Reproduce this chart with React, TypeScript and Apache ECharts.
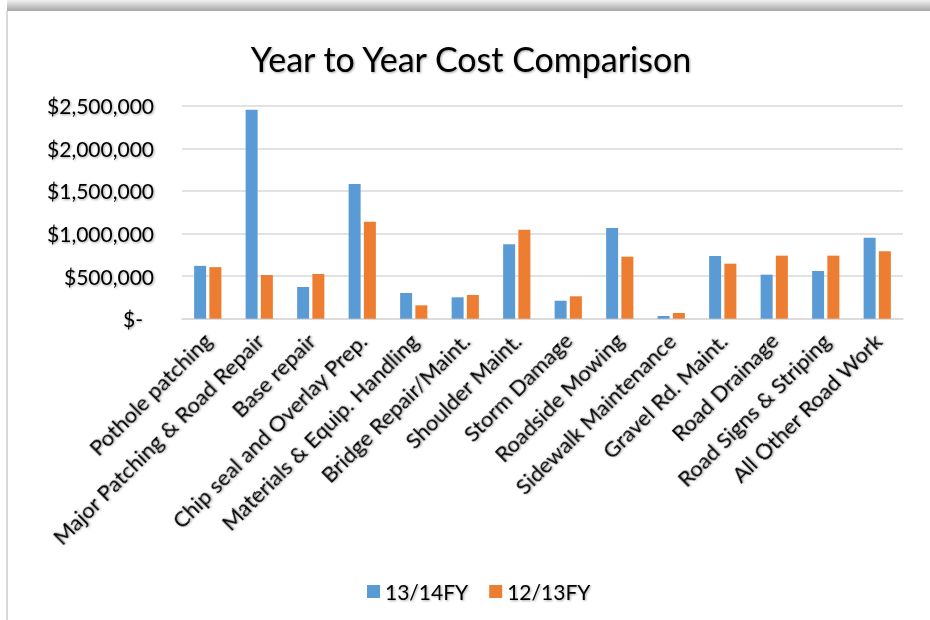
import React, { useEffect, useRef } from 'react';
import * as echarts from 'echarts';

const categories = [
  'Pothole patching',
  'Major Patching & Road Repair',
  'Base repair',
  'Chip seal and Overlay Prep.',
  'Materials & Equip. Handling',
  'Bridge Repair/Maint.',
  'Shoulder Maint.',
  'Storm Damage',
  'Roadside Mowing',
  'Sidewalk Maintenance',
  'Gravel Rd. Maint.',
  'Road Drainage',
  'Road Signs & Striping',
  'All Other Road Work',
];
const fy1314 = [620000, 2453000, 372000, 1581000, 302000, 251000, 873000, 211000, 1065000, 32000, 736000, 517000, 560000, 951000];
const fy1213 = [605000, 513000, 525000, 1139000, 157000, 278000, 1045000, 263000, 728000, 67000, 646000, 740000, 740000, 791000];
const seriesNames = ['13/14FY', '12/13FY'];
const yMin = 0;
const yMax = 2500000;
const yInterval = 500000;
const titleText = 'Year to Year Cost Comparison';

const FONT = 'Lato, "Noto Sans", sans-serif';
const shadow = {
  textShadowColor: 'rgba(0,0,0,0.35)',
  textShadowBlur: 2,
  textShadowOffsetX: 1,
  textShadowOffsetY: 1,
};

export default function App() {
  const ref = useRef<HTMLDivElement>(null);
  useEffect(() => {
    document.body.style.margin = '0';
    if (!ref.current) return;
    const chart = echarts.init(ref.current, undefined, { renderer: 'svg' });
    chart.setOption({
      animation: false,
      backgroundColor: '#ffffff',
      color: ['#5B9BD5', '#ED7D31'],
      graphic: [
        {
          type: 'rect',
          shape: { x: 7, y: 0, width: 923, height: 11 },
          style: {
            fill: new echarts.graphic.LinearGradient(0, 0, 0, 1, [
              { offset: 0, color: '#f2f2f2' },
              { offset: 1, color: '#a6a6a6' },
            ]),
          },
          silent: true,
        },
        {
          type: 'line',
          shape: { x1: 7, y1: 11, x2: 7, y2: 620 },
          style: { stroke: '#d9d9d9', lineWidth: 2 },
          silent: true,
        },
        {
          type: 'text',
          x: 471,
          y: 58,
          style: {
            text: titleText,
            fontFamily: FONT,
            fontSize: 34,
            fill: '#000000',
            textAlign: 'center',
            textVerticalAlign: 'middle',
            ...shadow,
          },
        },
      ],
      grid: { left: 182, right: 27, top: 105.7, bottom: 301.3, containLabel: false },
      legend: {
        data: seriesNames,
        left: 362,
        top: 576,
        icon: 'rect',
        itemWidth: 13,
        itemHeight: 13,
        itemGap: 21,
        textStyle: { fontFamily: FONT, fontSize: 21, color: '#000', ...shadow },
      },
      xAxis: {
        type: 'category',
        data: categories,
        axisLine: { lineStyle: { color: '#d9d9d9', width: 1.5 } },
        axisTick: { show: false },
        axisLabel: {
          interval: 0,
          rotate: 45,
          margin: 18,
          fontFamily: FONT,
          fontSize: 22,
          color: '#000',
          ...shadow,
        },
      },
      yAxis: {
        type: 'value',
        min: yMin,
        max: yMax,
        interval: yInterval,
        axisLine: { show: false },
        axisTick: { show: false },
        splitLine: { lineStyle: { color: '#d9d9d9', width: 1.5 } },
        axisLabel: {
          margin: 28,
          fontFamily: FONT,
          fontSize: 21,
          color: '#000',
          ...shadow,
          formatter: (v: number) =>
            v === 0 ? '{z|$-}' : '$' + v.toLocaleString('en-US'),
          rich: {
            z: {
              fontFamily: FONT,
              fontSize: 21,
              color: '#000',
              padding: [0, 11, 0, 0],
              ...shadow,
            },
          },
        },
      },
      series: [
        { name: seriesNames[0], type: 'bar', data: fy1314, barWidth: 12, barGap: '27%' },
        { name: seriesNames[1], type: 'bar', data: fy1213, barWidth: 12, barGap: '27%' },
      ],
    });
    return () => chart.dispose();
  }, []);
  return <div ref={ref} style={{ width: 930, height: 620 }} />;
}
